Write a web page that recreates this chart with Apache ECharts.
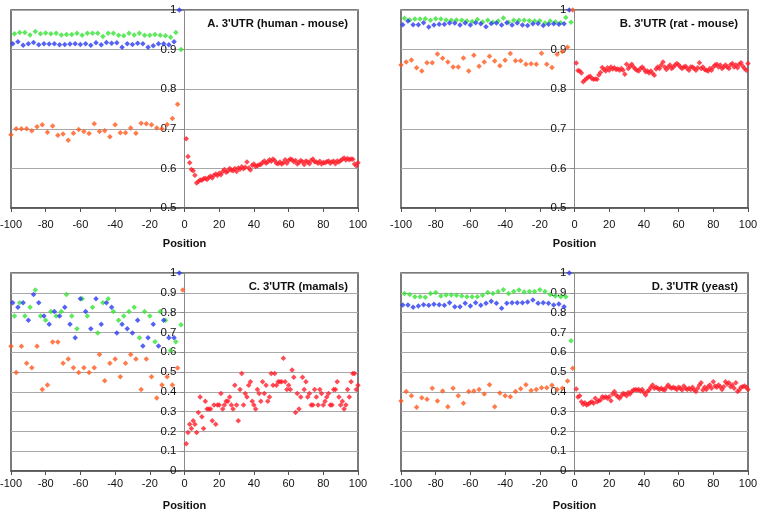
<!DOCTYPE html>
<html><head><meta charset="utf-8">
<script src="https://cdn.jsdelivr.net/npm/echarts@6/dist/echarts.min.js"></script>
<style>html,body{margin:0;padding:0;background:#fff}#c{width:763px;height:517px}</style>
</head><body><div id="c"></div>
<script>
// ---- positions ----
const orangeX = [-100,-97,-94,-91,-88,-85,-82,-79,-76,-73,-70,-67,-64,-61,-58,-55,-52,-49,-46,-43,-40,-37,-34,-31,-28,-25,-22,-19,-16,-13,-10,-7,-4,-1];
const blueX = [-99,-96,-93,-90,-87,-84,-81,-78,-75,-72,-69,-66,-63,-60,-57,-54,-51,-48,-45,-42,-39,-36,-33,-30,-27,-24,-21,-18,-15,-12,-9,-6,-3];
const greenX = [-98,-95,-92,-89,-86,-83,-80,-77,-74,-71,-68,-65,-62,-59,-56,-53,-50,-47,-44,-41,-38,-35,-32,-29,-26,-23,-20,-17,-14,-11,-8,-5,-2];
const xTicks = [-100,-80,-60,-40,-20,0,20,40,60,80,100];
const titles = ["A. 3'UTR (human - mouse)", "B. 3'UTR (rat - mouse)", "C. 3'UTR (mamals)", "D. 3'UTR (yeast)"];

// ---- panel A ----
const greenA = [0.940,0.943,0.943,0.937,0.946,0.940,0.942,0.940,0.941,0.937,0.938,0.938,0.941,0.936,0.941,0.941,0.941,0.933,0.941,0.941,0.936,0.935,0.941,0.937,0.941,0.936,0.936,0.938,0.936,0.935,0.931,0.943,0.900];
const blueA = [0.915,0.920,0.911,0.915,0.918,0.912,0.915,0.914,0.915,0.912,0.913,0.914,0.915,0.913,0.915,0.911,0.917,0.912,0.918,0.916,0.917,0.906,0.915,0.913,0.916,0.915,0.906,0.910,0.915,0.915,0.912,0.920,1.0];
const orangeA = [0.685,0.700,0.700,0.700,0.695,0.705,0.710,0.691,0.707,0.684,0.687,0.671,0.689,0.698,0.693,0.688,0.713,0.693,0.695,0.680,0.710,0.690,0.690,0.702,0.689,0.714,0.713,0.710,0.702,0.700,0.711,0.726,0.762];
const redA = [0.675,0.630,0.614,0.597,0.594,0.583,0.563,0.567,0.571,0.570,
0.574,0.575,0.572,0.577,0.580,0.576,0.583,0.586,0.582,0.588,
0.584,0.592,0.597,0.590,0.593,0.600,0.596,0.594,0.600,0.592,
0.601,0.598,0.604,0.599,0.603,0.616,0.601,0.596,0.608,0.611,
0.605,0.607,0.609,0.610,0.615,0.619,0.613,0.616,0.622,0.618,
0.624,0.620,0.613,0.612,0.616,0.611,0.614,0.622,0.613,0.620,
0.624,0.622,0.617,0.620,0.611,0.615,0.620,0.617,0.610,0.619,
0.616,0.612,0.620,0.624,0.617,0.616,0.613,0.618,0.611,0.615,
0.614,0.617,0.619,0.613,0.617,0.618,0.612,0.619,0.616,0.620,
0.623,0.626,0.621,0.625,0.622,0.624,0.623,0.611,0.607,0.614];

// ---- panel B ----
const greenB = [0.979,0.975,0.977,0.977,0.978,0.974,0.978,0.977,0.975,0.974,0.975,0.974,0.972,0.971,0.976,0.970,0.974,0.969,0.972,0.980,0.969,0.974,0.974,0.974,0.973,0.972,0.973,0.967,0.972,0.970,0.968,0.981,0.969];
const blueB = [0.963,0.972,0.963,0.963,0.968,0.957,0.962,0.964,0.964,0.967,0.967,0.962,0.967,0.962,0.968,0.965,0.958,0.966,0.967,0.962,0.968,0.962,0.967,0.962,0.961,0.965,0.966,0.961,0.964,0.965,0.964,0.965,1.0];
const orangeB = [0.861,0.869,0.874,0.854,0.846,0.867,0.867,0.889,0.878,0.869,0.856,0.856,0.879,0.846,0.886,0.858,0.869,0.883,0.871,0.859,0.873,0.890,0.872,0.872,0.863,0.864,0.863,0.891,0.863,0.855,0.888,0.895,0.906,1.0];
const redB = [0.866,0.847,0.846,0.841,0.819,0.823,0.827,0.831,0.833,0.827,
0.825,0.826,0.825,0.836,0.842,0.855,0.850,0.846,0.854,0.848,
0.856,0.851,0.854,0.850,0.851,0.848,0.852,0.848,0.838,0.863,
0.852,0.858,0.863,0.856,0.851,0.848,0.846,0.852,0.856,0.851,
0.844,0.846,0.841,0.846,0.840,0.835,0.851,0.856,0.852,0.861,
0.869,0.856,0.850,0.856,0.861,0.852,0.856,0.861,0.865,0.861,
0.856,0.852,0.856,0.858,0.852,0.848,0.856,0.856,0.852,0.848,
0.854,0.867,0.852,0.856,0.850,0.848,0.846,0.852,0.848,0.856,
0.861,0.863,0.856,0.861,0.852,0.856,0.861,0.856,0.852,0.862,
0.865,0.856,0.861,0.854,0.863,0.867,0.858,0.852,0.848,0.865];

// ---- panel C ----
const greenC = [0.783,0.850,0.783,0.827,0.914,0.783,0.761,0.805,0.783,0.805,0.892,0.783,0.719,0.870,0.783,0.827,0.697,0.850,0.870,0.805,0.761,0.783,0.805,0.827,0.673,0.805,0.783,0.653,0.805,0.761,0.609,0.653,0.739];
const blueC = [0.850,0.827,0.850,0.761,0.892,0.850,0.783,0.741,0.805,0.783,0.827,0.741,0.673,0.870,0.805,0.719,0.870,0.741,0.850,0.827,0.697,0.741,0.719,0.697,0.761,0.631,0.673,0.741,0.631,0.761,0.673,0.673,1.0];
const orangeC = [0.630,0.498,0.630,0.544,0.522,0.630,0.412,0.434,0.652,0.652,0.544,0.566,0.522,0.498,0.522,0.498,0.522,0.588,0.456,0.544,0.566,0.476,0.544,0.588,0.566,0.412,0.566,0.476,0.369,0.434,0.476,0.434,0.520,0.914];
const redC = [0.138,0.195,0.236,0.215,0.254,0.236,0.195,0.295,0.374,0.274,
0.215,0.352,0.313,0.313,0.313,0.254,0.333,0.236,0.333,0.333,
0.392,0.313,0.333,0.352,0.352,0.374,0.333,0.313,0.433,0.333,
0.254,0.412,0.492,0.333,0.392,0.374,0.433,0.451,0.352,0.333,
0.313,0.412,0.392,0.352,0.451,0.392,0.433,0.352,0.374,0.492,
0.433,0.492,0.433,0.451,0.451,0.451,0.569,0.451,0.412,0.433,
0.412,0.510,0.473,0.295,0.392,0.313,0.374,0.473,0.412,0.451,
0.374,0.392,0.333,0.333,0.412,0.374,0.333,0.412,0.392,0.333,
0.352,0.374,0.392,0.333,0.333,0.412,0.412,0.451,0.374,0.333,
0.352,0.313,0.333,0.412,0.374,0.451,0.492,0.492,0.412,0.433];

// ---- panel D ----
const greenD = [0.897,0.892,0.880,0.880,0.877,0.897,0.901,0.884,0.889,0.889,0.887,0.884,0.880,0.880,0.880,0.887,0.901,0.897,0.907,0.916,0.897,0.906,0.914,0.904,0.907,0.906,0.916,0.907,0.892,0.884,0.880,0.880,0.658];
const blueD = [0.838,0.838,0.827,0.833,0.840,0.837,0.842,0.840,0.837,0.850,0.830,0.830,0.847,0.833,0.850,0.837,0.847,0.857,0.847,0.822,0.847,0.850,0.850,0.850,0.854,0.864,0.847,0.850,0.847,0.838,0.843,0.830,1.0];
const orangeD = [0.354,0.401,0.380,0.322,0.370,0.362,0.418,0.354,0.404,0.325,0.418,0.380,0.342,0.401,0.404,0.412,0.389,0.436,0.325,0.394,0.380,0.375,0.401,0.416,0.436,0.407,0.412,0.421,0.421,0.433,0.412,0.418,0.455,0.519];
const redD = [0.414,0.374,0.380,0.350,0.337,0.345,0.333,0.338,0.345,0.350,
0.342,0.367,0.350,0.355,0.359,0.375,0.370,0.375,0.367,0.375,
0.355,0.389,0.401,0.384,0.375,0.367,0.380,0.392,0.389,0.380,
0.396,0.389,0.401,0.409,0.412,0.409,0.412,0.404,0.412,0.396,
0.384,0.401,0.409,0.423,0.434,0.418,0.423,0.418,0.412,0.418,
0.412,0.409,0.423,0.434,0.423,0.418,0.423,0.418,0.412,0.423,
0.418,0.409,0.429,0.418,0.412,0.418,0.412,0.423,0.409,0.401,
0.418,0.434,0.446,0.409,0.423,0.412,0.426,0.434,0.418,0.451,
0.429,0.423,0.434,0.426,0.412,0.426,0.451,0.439,0.446,0.426,
0.434,0.418,0.446,0.401,0.409,0.423,0.426,0.429,0.423,0.412];

const panels = [
  {green: greenA, blue: blueA, orange: orangeA, red: redA, yMin: 0.5, yMax: 1, title: titles[0]},
  {green: greenB, blue: blueB, orange: orangeB, red: redB, yMin: 0.5, yMax: 1, title: titles[1]},
  {green: greenC, blue: blueC, orange: orangeC, red: redC, yMin: 0, yMax: 1, title: titles[2]},
  {green: greenD, blue: blueD, orange: orangeD, red: redD, yMin: 0, yMax: 1, title: titles[3]}
];
const COLORS = {green: '#36e236', blue: '#2a3cf2', orange: '#ff5a1e', red: '#ff1e2a'};
const layout = [
  {left: 11, width: 347, top: 10, height: 198},
  {left: 401, width: 347, top: 10, height: 198},
  {left: 11, width: 347, top: 273, height: 198},
  {left: 401, width: 347, top: 273, height: 198}
];
const FONT = 'Liberation Sans, Arial, sans-serif';

const grids = [], xAxes = [], yAxes = [], series = [], titleOpts = [];
panels.forEach((p, i) => {
  const L = layout[i];
  grids.push({left: L.left, top: L.top, width: L.width, height: L.height, show: true,
    containLabel: false, outerBoundsMode: 'none',
    borderColor: '#505050', borderWidth: 1.5, backgroundColor: 'transparent'});
  xAxes.push({type: 'value', gridIndex: i, min: -100, max: 100, interval: 20,
    name: 'Position', nameLocation: 'middle', nameGap: i < 2 ? 30 : 29,
    nameTextStyle: {fontFamily: FONT, fontWeight: 'bold', fontSize: 11, color: '#111'},
    axisLine: {onZero: false, lineStyle: {color: '#505050', width: 1.5}},
    axisTick: {show: true, length: 4, lineStyle: {color: '#505050'}},
    axisLabel: {fontFamily: FONT, fontSize: 11, color: '#111', margin: i < 2 ? 11 : 7},
    splitLine: {show: false}});
  // y axis drawn at x = 0 (the centre of the grid)
  yAxes.push({type: 'value', gridIndex: i, min: p.yMin, max: p.yMax, interval: 0.1,
    position: 'left', offset: -L.width / 2,
    axisLine: {show: true, onZero: false, lineStyle: {color: '#8a8a8a', width: 1}},
    axisTick: {show: true, length: 4, lineStyle: {color: '#8a8a8a'}},
    axisLabel: {fontFamily: FONT, fontSize: 11.5, color: '#111', margin: 8,
      formatter: v => String(Math.round(v * 10) / 10)},
    splitLine: {show: true, lineStyle: {color: '#a8a8a8', width: 1}}});
  const mk = (name, xs, vals) => ({
    type: 'scatter', xAxisIndex: i, yAxisIndex: i, symbol: 'diamond', symbolSize: 5.5,
    itemStyle: {color: COLORS[name]}, silent: true, z: 3,
    data: vals.map((v, k) => [xs[k], v])
  });
  series.push(mk('green', greenX, p.green));
  series.push(mk('blue', blueX, p.blue));
  series.push(mk('orange', orangeX, p.orange));
  series.push(mk('red', p.red.map((v, k) => k + 1), p.red));
  titleOpts.push({text: p.title, right: 763 - (L.left + L.width) + 5, top: L.top + 3,
    textStyle: {fontFamily: FONT, fontWeight: 'bold', fontSize: 11.3, color: '#111'}});
});

const chart = echarts.init(document.getElementById('c'), null, {renderer: 'canvas'});
chart.setOption({animation: false, title: titleOpts, grid: grids, xAxis: xAxes, yAxis: yAxes, series: series});
</script>
</body></html>
